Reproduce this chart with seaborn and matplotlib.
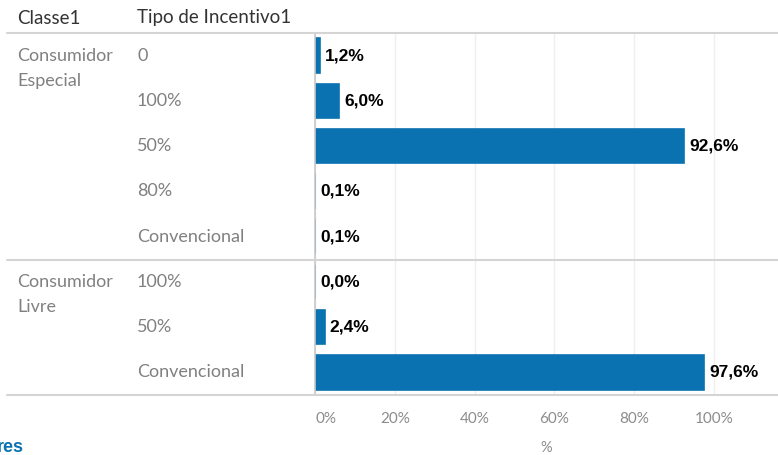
import pandas as pd
import matplotlib.pyplot as plt
import seaborn as sns
from matplotlib.lines import Line2D

# Data
classe = ["Consumidor Especial"] * 5 + ["Consumidor Livre"] * 3
tipo = ["0", "100%", "50%", "80%", "Convencional", "100%", "50%", "Convencional"]
pct = [1.2, 6.0, 92.6, 0.1, 0.1, 0.0, 2.4, 97.6]
x_ticks = [0, 20, 40, 60, 80, 100]

df = pd.DataFrame({"Classe1": classe, "Tipo": tipo, "pct": pct})
df["row"] = [f"{c}|{t}" for c, t in zip(df["Classe1"], df["Tipo"])]

sns.set_style("white")
plt.rcParams["font.family"] = ["Lato", "DejaVu Sans"]

W, H = 778, 455
fig = plt.figure(figsize=(W / 100, H / 100), dpi=100)
left, right, top, bottom = 315, 778, 33, 395
ax = fig.add_axes([left / W, 1 - bottom / H, (right - left) / W, (bottom - top) / H])

blue = "#0a72b0"
sns.barplot(data=df, x="pct", y="row", orient="h", color=blue, width=0.76,
            edgecolor=blue, linewidth=1.2, saturation=1, ax=ax)

ax.set_xlim(0, (right - left) / 3.99)
ax.set_ylim(len(df) - 0.5, -0.5)
ax.set_xticks(x_ticks)
ax.set_xticklabels([f"{t}%" for t in x_ticks], color="#8c8c8c", fontsize=11)
ax.get_xticklabels()[0].set_horizontalalignment("left")
ax.tick_params(axis="x", length=0, pad=12)
ax.set_yticks([])
ax.set_ylabel("")
ax.set_xlabel("%", color="#8c8c8c", fontsize=10.5, labelpad=11)
ax.xaxis.grid(True, color="#efefef", linewidth=1)
ax.set_axisbelow(True)
for s in ["top", "right", "bottom"]:
    ax.spines[s].set_visible(False)
ax.spines["left"].set_color("#c8c8c8")
ax.spines["left"].set_linewidth(1.2)

# value labels
for i, v in enumerate(df["pct"]):
    ax.text(v + 1.3, i, f"{v:.1f}%".replace(".", ","), va="center", ha="left",
            fontsize=12.5, fontweight="bold", color="black", family="Liberation Sans")

# row labels (tipo) and group labels (classe)
ytr = ax.get_yaxis_transform()
span = right - left
for i, t in enumerate(df["Tipo"]):
    ax.text((137 - left) / span, i, t, transform=ytr,
            va="center", ha="left", fontsize=13, color="#808080")

first_rows = df.reset_index().groupby("Classe1", sort=False)["index"].first()
for name, first in first_rows.items():
    for k, w in enumerate(name.split(" ")):
        ax.text((17 - left) / span, first + k * 0.55, w, transform=ytr,
                va="center", ha="left", fontsize=13, color="#808080")

# headers
fig.text(17 / W, 1 - 18 / H, "Classe1", va="center", ha="left", fontsize=13.5, color="#333333")
fig.text(137 / W, 1 - 18 / H, "Tipo de Incentivo1", va="center", ha="left", fontsize=13.5, color="#333333")

# separator lines
for y in [top, 260, bottom]:
    fig.add_artist(Line2D([7 / W, 1], [1 - y / H, 1 - y / H], color="#d4d4d4", linewidth=1.5))

# clipped title fragment at the bottom left
fig.text(-0.004, 1 - 447 / H, "res", va="center", ha="left", fontsize=13,
         fontweight="bold", color=blue, family="Liberation Sans")

fig.savefig("out.png", dpi=100)
